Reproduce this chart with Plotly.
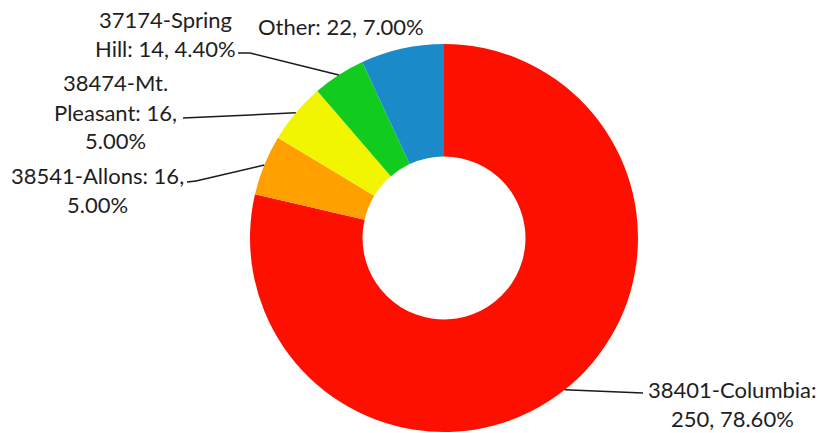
import math
import plotly.graph_objects as go

# ---- data ----
labels = ["38401-Columbia", "38541-Allons", "38474-Mt. Pleasant", "37174-Spring Hill", "Other"]
values = [250, 16, 16, 14, 22]
pct_text = ["78.60%", "5.00%", "5.00%", "4.40%", "7.00%"]
label_lines = [
    ["38401-Columbia:", "250, 78.60%"],
    ["38541-Allons: 16,", "5.00%"],
    ["38474-Mt.", "Pleasant: 16,", "5.00%"],
    ["37174-Spring", "Hill: 14, 4.40%"],
    ["Other: 22, 7.00%"],
]
colors = ["#FE1000", "#FFA000", "#F2F500", "#11CC1E", "#1A8AC9"]

# ---- layout geometry (pixels in the screenshot) ----
W, H = 829, 433
OFF = 0  # body margin removed below
CX, CY, R = 444, 238, 194
HOLE = 0.42
PITCH = 29

def px(x):
    return (x - OFF) / W

def py(y):
    return 1 - (y - OFF) / H

fig = go.Figure(go.Pie(
    labels=labels, values=values, sort=False, direction="clockwise", rotation=0,
    hole=HOLE, marker=dict(colors=colors, line=dict(width=0)),
    textinfo="none", hoverinfo="label+value", showlegend=False,
    domain=dict(x=[px(CX - R), px(CX + R)], y=[py(CY + R), py(CY - R)]),
))

# attachment points on the outer edge at each slice's mid angle
total = sum(values)
cum = 0
anchors = []
for v in values:
    mid = (cum + v / 2) / total * 2 * math.pi
    anchors.append((CX + R * math.sin(mid), CY - R * math.cos(mid)))
    cum += v

# label block centres and leader-line start points (pixels)
label_pos = [(732, 404), (97, 190), (115, 112), (165, 34), (341, 26)]
leader_start = [[(643, 393)], [(187, 182), (196, 181)], [(183, 118)], [(238, 53), (250, 53)], None]

shapes = []
for i, pts in enumerate(leader_start):
    if pts is None:
        continue
    path_pts = pts + [anchors[i]]
    for (x0, y0), (x1, y1) in zip(path_pts[:-1], path_pts[1:]):
        shapes.append(dict(type="line", xref="paper", yref="paper",
                           x0=px(x0), y0=py(y0), x1=px(x1), y1=py(y1),
                           line=dict(color="#1a1a1a", width=1.5)))

annotations = []
for lines, (x, y) in zip(label_lines, label_pos):
    n = len(lines)
    for k, line in enumerate(lines):
        yy = y + (k - (n - 1) / 2) * PITCH
        annotations.append(dict(text=line, x=px(x), y=py(yy), xref="paper", yref="paper",
                                xanchor="center", yanchor="middle", showarrow=False,
                                font=dict(family="Lato", size=22, color="#1e1e1e")))

fig.update_layout(
    width=W, height=H, margin=dict(l=0, r=0, t=0, b=0),
    paper_bgcolor="white", plot_bgcolor="white",
    shapes=shapes, annotations=annotations,
)

fig.write_html("out.html", config={"displayModeBar": False},
               post_script="document.body.style.margin='0px';")
